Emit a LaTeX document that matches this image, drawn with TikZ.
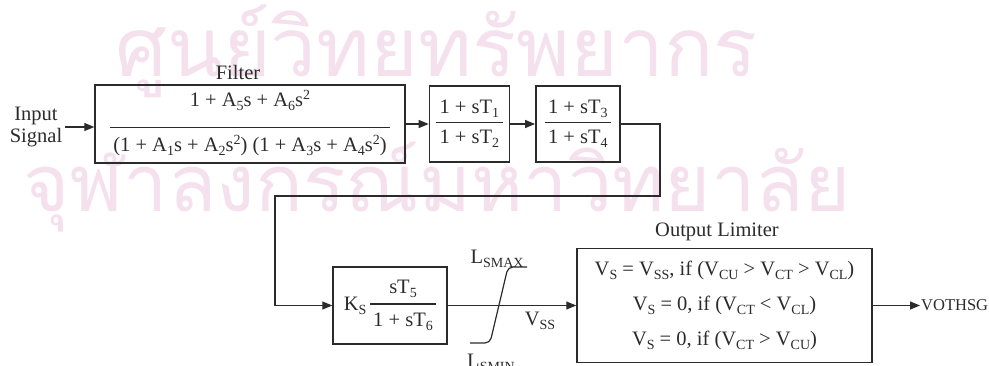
\documentclass[tikz,border=0pt]{standalone}
\usepackage{fontspec}
\setmainfont{Liberation Serif}
\newfontfamily\thaifont[Script=Thai]{Loma}
\usepackage{graphicx}
\usetikzlibrary{arrows.meta,positioning}
\definecolor{ink}{HTML}{2B2B2B}
\definecolor{stamp}{RGB}{245,224,238}
\setlength{\arrayrulewidth}{1.4pt}
\newcommand{\sbs}[1]{\raisebox{-4pt}{\fontsize{14}{14}\selectfont #1}}
\newcommand{\sps}[1]{\raisebox{7pt}{\fontsize{14}{14}\selectfont #1}}
\newcommand{\frc}[4]{\begin{tabular}{@{\,}c@{\,}}#3\\[#1]\hline\rule{0pt}{#2}#4\end{tabular}}

\begin{document}
\begin{tikzpicture}[x=1pt, y=-1pt,
  every node/.style={font=\fontsize{20.5}{22}\selectfont, inner sep=3pt, text=ink},
  blk/.style={draw=ink, line width=1.4pt, inner sep=0pt},
  wire/.style={ink, line width=1.2pt},
  >={Triangle[length=10pt,width=8pt]}]
\useasboundingbox (0,0) rectangle (989,366);
% watermark behind the diagram
\node[anchor=base west, inner sep=0pt, text=stamp] (wmtop) at (115,77) {\resizebox{642pt}{!}{\thaifont ศูนย์วิทยทรัพยากร}};
\node[anchor=base west, inner sep=0pt, text=stamp] (wmbot) at (23,212) {\resizebox{827pt}{!}{\thaifont จุฬาลงกรณ์มหาวิทยาลัย}};
% upper row
\node[blk, minimum width=310pt, minimum height=78pt] (filter) at (250,124)
  {\frc{13.4pt}{23pt}{1 + A\sbs{5}s + A\sbs{6}s\sps{2}}{(1 + A\sbs{1}s + A\sbs{2}s\sps{2}) (1 + A\sbs{3}s + A\sbs{4}s\sps{2})}};
\node[blk, minimum width=80pt, minimum height=76pt, right=23pt of filter] (lead12)
  {\frc{1.4pt}{20pt}{1 + sT\sbs{1}}{1 + sT\sbs{2}}};
\node[blk, minimum width=84pt, minimum height=76pt, right=25pt of lead12] (lead34)
  {\frc{1.4pt}{20pt}{1 + sT\sbs{3}}{1 + sT\sbs{4}}};
\node (filterlbl) at (238,72) {Filter};
\node[align=center] (insig) at (36,127) {Input\\Signal};
% lower row
\node[blk, minimum width=114pt, minimum height=77pt] (washout) at (390,305.5)
  {K\sbs{S}\,\frc{3.4pt}{22pt}{sT\sbs{5}}{1 + sT\sbs{6}}};
\node[blk, minimum width=295pt, minimum height=114pt, align=center,
  font=\fontsize{20.5}{35}\selectfont] (limiter) at (724.5,305.5)
  {V\sbs{S} = V\sbs{SS}, if (V\sbs{CU} > V\sbs{CT} > V\sbs{CL})\\
   V\sbs{S} = 0, if (V\sbs{CT} < V\sbs{CL})\\
   V\sbs{S} = 0, if (V\sbs{CT} > V\sbs{CU})};
\node (limlbl) at (717,232) {Output Limiter};
\node[anchor=west, inner sep=1pt, font=\fontsize{16.5}{18}\selectfont] (vothsg) at (920,305.5) {VOTHSG};
\node (lmax) at (497,259) {L\sbs{SMAX}};
\node (lmin) at (491,363) {L\sbs{SMIN}};
\node (vss) at (540,321) {V\sbs{SS}};
\coordinate (bendR) at (660,196);
\coordinate (bendL) at (275,196);
% connectors
\draw[wire, ->] (insig.east) -- (insig.east -| filter.west);
\draw[wire, ->] (filter) -- (lead12);
\draw[wire, ->] (lead12) -- (lead34);
\draw[wire, ->] (lead34.east) -| (bendR) -- (bendL) |- (washout.west);
\draw[wire, ->] (washout) -- (limiter);
\draw[wire, ->] (limiter) -- (vothsg);
% limiter curve
\draw[wire, rounded corners=5pt] (470,343) -- (490,343) -- (508,267) -- (527,267);
\end{tikzpicture}
\end{document}
